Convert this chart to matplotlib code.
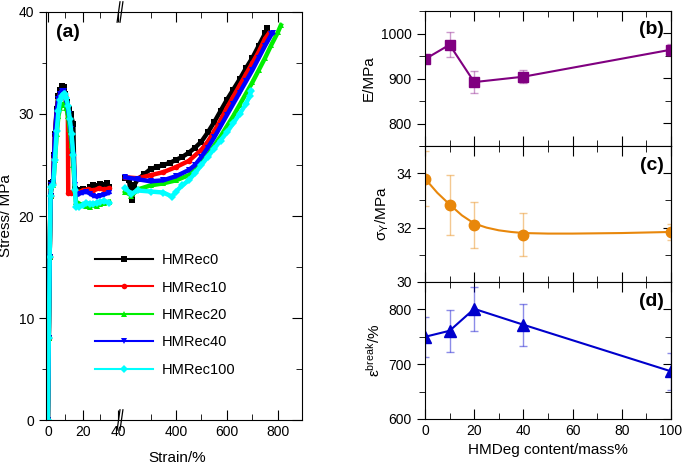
import matplotlib
matplotlib.use("Agg")
import matplotlib.pyplot as plt
from matplotlib.lines import Line2D
from matplotlib.ticker import MultipleLocator, FixedLocator

plt.rcParams['font.family'] = ['Liberation Sans', 'DejaVu Sans']
plt.rcParams['font.size'] = 10

# ---------------- data: panel (a) stress-strain ----------------
labels = ["HMRec0", "HMRec10", "HMRec20", "HMRec40", "HMRec100"]
colors = ["#000000", "#ff0000", "#00ee00", "#0000ff", "#00ffff"]
markers = ["s", "o", "^", "v", "D"]

# left segment (strain 0-40 %)
s0_left_x = [0, 0.5, 1, 1.5, 2, 3, 3.5, 4, 5, 6, 7, 8, 9, 10, 11, 12, 13, 14.5, 15.3, 16, 18, 20, 22, 24, 26, 28, 30, 32, 34, 35]
s0_left_y = [0, 8, 16, 22, 23.2, 23.3, 26, 28, 30.5, 31.8, 32.4, 32.7, 32.6, 32.0, 31.2, 30.5, 30.0, 29.0, 22.6, 22.4, 22.5, 22.6, 22.5, 22.8, 23.0, 22.9, 23.1, 23.0, 23.2, 22.8]
s10_left_x = [0, 0.5, 1, 1.5, 2, 3, 3.5, 4, 5, 6, 7, 8, 8.5, 9.5, 10.5, 11.4, 11.6, 13, 15, 17, 20, 23, 26, 29, 32, 35]
s10_left_y = [0, 8, 16, 22, 23.0, 23.2, 25.8, 27.8, 30.2, 31.5, 32.0, 32.3, 32.3, 31.9, 31.0, 30.0, 22.3, 22.3, 22.4, 22.3, 22.5, 22.6, 22.5, 22.7, 22.6, 22.7]
s20_left_x = [0, 0.5, 1, 1.5, 2, 3, 4, 5, 6, 7, 8, 9, 9.5, 10.5, 11.5, 12.5, 13.5, 14.5, 15.5, 16, 18, 20, 22, 24, 26, 28, 30, 32, 35]
s20_left_y = [0, 8, 16, 22, 22.8, 23.0, 25.5, 28.0, 29.8, 30.6, 30.9, 31.0, 31.0, 30.6, 29.8, 28.5, 27.0, 25.0, 22.5, 21.4, 21.2, 21.1, 21.0, 20.9, 21.1, 21.0, 21.2, 21.3, 21.4]
s40_left_x = [0, 0.5, 1, 1.5, 2, 3, 3.5, 4, 5, 6, 7, 8, 9, 10, 11, 12, 13, 14.5, 15.5, 16, 18, 20, 22, 24, 26, 28, 30, 32, 35]
s40_left_y = [0, 8, 16, 22, 23.0, 23.2, 25.8, 27.8, 30.2, 31.5, 32.0, 32.3, 32.3, 31.8, 31.0, 30.0, 28.5, 26.0, 23.0, 22.0, 22.2, 22.3, 22.4, 22.2, 22.0, 21.9, 22.0, 22.1, 22.3]
s100_left_x = [0, 0.5, 1, 1.5, 2, 3, 4, 5, 6, 7, 8, 9, 9.5, 10.5, 11.5, 12.5, 13.5, 14.5, 15.5, 16, 18, 20, 22, 24, 26, 28, 30, 32, 35]
s100_left_y = [0, 8, 16, 22, 22.8, 23.0, 25.5, 28.3, 30.3, 31.4, 31.8, 32.0, 32.0, 31.6, 30.8, 29.5, 28.0, 26.0, 22.5, 20.9, 20.9, 21.1, 21.3, 21.2, 21.2, 21.3, 21.4, 21.5, 21.3]

# right segment (strain > 200 %)
s0_right_x = [200, 215, 227, 235, 250, 275, 300, 325, 350, 375, 400, 425, 450, 475, 500, 525, 550, 575, 600, 625, 650, 675, 700, 725, 750, 758]
s0_right_y = [23.7, 23.5, 21.6, 23.0, 23.6, 24.1, 24.6, 24.8, 25.0, 25.2, 25.5, 25.8, 26.2, 26.7, 27.3, 28.2, 29.2, 30.3, 31.4, 32.4, 33.4, 34.5, 35.5, 36.7, 37.9, 38.4]
s10_right_x = [200, 250, 300, 350, 400, 450, 500, 525, 550, 575, 600, 625, 650, 675, 700, 725, 750, 765]
s10_right_y = [23.8, 23.7, 24.0, 24.3, 24.8, 25.4, 26.5, 27.3, 28.3, 29.4, 30.6, 31.7, 32.8, 33.9, 35.0, 36.1, 37.4, 37.9]
s20_right_x = [200, 225, 250, 300, 350, 400, 450, 475, 500, 525, 550, 575, 600, 625, 650, 675, 700, 725, 750, 775, 800, 812]
s20_right_y = [22.4, 22.0, 22.6, 23.0, 23.2, 23.5, 24.0, 24.5, 25.2, 26.0, 26.9, 27.8, 28.8, 29.8, 30.9, 32.0, 33.1, 34.3, 35.5, 36.8, 38.0, 38.7]
s40_right_x = [200, 250, 300, 350, 400, 450, 475, 500, 525, 550, 575, 600, 625, 650, 675, 700, 725, 750, 775, 780]
s40_right_y = [23.8, 23.6, 23.4, 23.5, 23.9, 24.5, 25.0, 25.8, 26.7, 27.7, 28.8, 29.9, 31.0, 32.1, 33.2, 34.3, 35.5, 36.7, 37.8, 37.9]
s100_right_x = [200, 225, 250, 300, 350, 385, 400, 425, 450, 475, 500, 525, 550, 575, 600, 625, 650, 675, 690, 695]
s100_right_y = [22.7, 22.2, 22.5, 22.4, 22.3, 21.9, 22.4, 23.0, 23.5, 24.2, 25.0, 25.8, 26.6, 27.4, 28.2, 29.1, 30.0, 31.0, 31.8, 32.3]

left_x = [s0_left_x, s10_left_x, s20_left_x, s40_left_x, s100_left_x]
left_y = [s0_left_y, s10_left_y, s20_left_y, s40_left_y, s100_left_y]
right_x = [s0_right_x, s10_right_x, s20_right_x, s40_right_x, s100_right_x]
right_y = [s0_right_y, s10_right_y, s20_right_y, s40_right_y, s100_right_y]

# ---------------- data: panels (b)-(d) ----------------
content = [0, 10, 20, 40, 100]
E_mod = [943, 975, 892, 904, 964]
E_err = [5, 28, 25, 15, 13]
sy = [33.8, 32.84, 32.1, 31.74, 31.84]
sy_err = [1.0, 1.1, 0.85, 0.8, 0.3]
sy_fit_x = [0, 5, 10, 15, 20, 25, 30, 35, 40, 50, 60, 70, 80, 90, 100]
sy_fit_y = [33.8, 33.28, 32.85, 32.45, 32.15, 32.0, 31.9, 31.84, 31.8, 31.78, 31.78, 31.79, 31.8, 31.82, 31.84]
eb = [750, 761, 801, 772, 687]
eb_err = [37, 38, 40, 38, 34]

W, H = 685, 468
fig = plt.figure(figsize=(W / 100, H / 100), dpi=100)

def fr(x0, y0, x1, y1):
    return [x0 / W, 1 - y1 / H, (x1 - x0) / W, (y1 - y0) / H]

axL = fig.add_axes(fr(46, 12, 120, 420))
axR = fig.add_axes(fr(120, 12, 302, 420), sharey=axL)

handles = []
for i in range(5):
    axL.plot(left_x[i], left_y[i], color=colors[i], marker=markers[i], ms=4, lw=3.2, mew=0)
    axR.plot(right_x[i], right_y[i], color=colors[i], marker=markers[i], ms=4, lw=3.2, mew=0)
    handles.append(Line2D([], [], color=colors[i], marker=markers[i], ms=4, lw=1.5, mew=0))

axL.set_xlim(-1.1, 41.2)
axR.set_xlim(180, 895)
axL.set_ylim(0, 40)
axL.spines['right'].set_visible(False)
axR.spines['left'].set_visible(False)
axL.xaxis.set_major_locator(FixedLocator([0, 20, 40]))
axL.xaxis.set_minor_locator(FixedLocator([10, 30]))
axR.xaxis.set_major_locator(FixedLocator([400, 600, 800]))
axR.xaxis.set_minor_locator(FixedLocator([300, 500, 700]))
axL.yaxis.set_major_locator(MultipleLocator(10))
axL.yaxis.set_minor_locator(MultipleLocator(5))
axL.tick_params(axis='x', which='both', direction='in', top=True, bottom=True)
axL.tick_params(axis='x', which='major', length=7)
axL.tick_params(axis='x', which='minor', length=4)
axL.tick_params(axis='y', which='major', direction='out', length=5)
axL.tick_params(axis='y', which='minor', direction='out', length=3)
axR.tick_params(axis='x', which='both', direction='in', top=True, bottom=True)
axR.tick_params(axis='x', which='major', length=7)
axR.tick_params(axis='x', which='minor', length=4)
axR.tick_params(axis='y', which='both', direction='in', left=False, right=True, labelleft=False)
axR.tick_params(axis='y', which='major', length=7)
axR.tick_params(axis='y', which='minor', length=4)
axL.set_ylabel("Stress/ MPa", fontsize=11)
fig.text(177 / W, 1 - 458 / H, "Strain/%", ha='center', va='center', fontsize=11)
axL.text(0.14, 0.97, "(a)", transform=axL.transAxes, fontsize=14, fontweight='bold', va='top')

# break marks
for yy in (0, 1):
    for dx in (-0.008, 0.008):
        axR.plot([dx - 0.008, dx + 0.008], [yy - 0.025, yy + 0.025], transform=axR.transAxes,
                 color='black', lw=0.9, clip_on=False)

fig.legend(handles, labels, loc='upper left', bbox_to_anchor=(82 / W, 1 - 240 / H), frameon=False,
           handlelength=4.0, labelspacing=0.92, numpoints=1, fontsize=10.5, handletextpad=0.6)

# ---------------- panels b, c, d ----------------
axb = fig.add_axes(fr(425, 11, 671, 146))
axc = fig.add_axes(fr(425, 146, 671, 282), sharex=axb)
axd = fig.add_axes(fr(425, 282, 671, 419), sharex=axb)

purple = "#800080"
orange = "#e8870b"
blue = "#0000cc"

axb.errorbar(content, E_mod, yerr=E_err, fmt='none', ecolor=purple, alpha=0.4, capsize=3, lw=1)
axb.plot(content, E_mod, color=purple, marker='s', ms=7, lw=1.5)
axb.set_ylim(750, 1050)
axb.yaxis.set_major_locator(MultipleLocator(100))
axb.yaxis.set_minor_locator(MultipleLocator(50))
axb.set_ylabel("E/MPa", fontsize=11)

axc.errorbar(content, sy, yerr=sy_err, fmt='none', ecolor=orange, alpha=0.45, capsize=3, lw=1)
axc.plot(sy_fit_x, sy_fit_y, color=orange, lw=1.5)
axc.plot(content, sy, color=orange, marker='o', ms=7.5, lw=0)
axc.set_ylim(30, 35)
axc.yaxis.set_major_locator(MultipleLocator(2))
axc.yaxis.set_minor_locator(MultipleLocator(1))
axc.set_ylabel(r"$\mathregular{\sigma_Y}$/MPa", fontsize=11)

axd.errorbar(content, eb, yerr=eb_err, fmt='none', ecolor=blue, alpha=0.45, capsize=3, lw=1)
axd.plot(content, eb, color=blue, marker='^', ms=8, lw=1.5)
axd.set_ylim(600, 850)
axd.yaxis.set_major_locator(MultipleLocator(100))
axd.yaxis.set_minor_locator(MultipleLocator(50))
axd.set_ylabel(r"$\mathregular{\varepsilon^{break}}$/%", fontsize=11)
axd.set_xlabel("HMDeg content/mass%", fontsize=11)
axd.set_xlim(0, 100)
axd.xaxis.set_major_locator(MultipleLocator(20))
axd.xaxis.set_minor_locator(MultipleLocator(10))

for ax, lab in ((axb, "(b)"), (axc, "(c)"), (axd, "(d)")):
    ax.tick_params(axis='x', which='both', direction='in', top=True, bottom=True)
    ax.tick_params(axis='x', which='major', length=7)
    ax.tick_params(axis='x', which='minor', length=4)
    ax.tick_params(axis='y', which='both', direction='out', right=False)
    ax.tick_params(axis='y', which='major', length=6)
    ax.tick_params(axis='y', which='minor', length=4)
    sec = ax.secondary_yaxis('right')
    sec.yaxis.set_major_locator(ax.yaxis.get_major_locator())
    sec.yaxis.set_minor_locator(ax.yaxis.get_minor_locator())
    sec.tick_params(axis='y', which='both', direction='in', labelright=False)
    sec.tick_params(axis='y', which='major', length=6)
    sec.tick_params(axis='y', which='minor', length=4)
    ax.text(0.97, 0.86, lab, transform=ax.transAxes, fontsize=14, fontweight='bold', ha='right', va='center')
    if ax is not axd:
        ax.tick_params(axis='x', labelbottom=False)

fig.savefig("out.png", dpi=100)
